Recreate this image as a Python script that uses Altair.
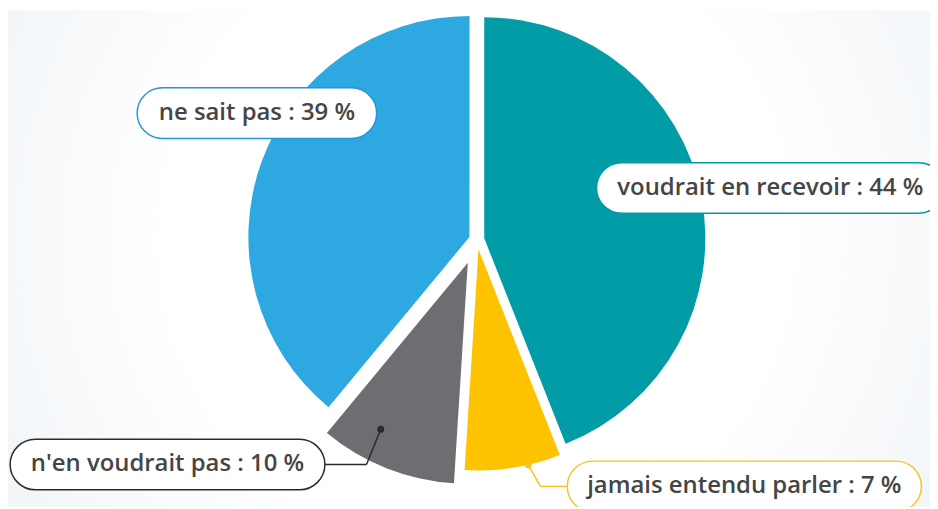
import math
import altair as alt
import pandas as pd

# ---------------- data ----------------
CATEGORIES = ["voudrait en recevoir", "jamais entendu parler", "n'en voudrait pas", "ne sait pas"]
VALUES = [44, 7, 10, 39]          # percent, clockwise from 12 o'clock

# ---------------- style / layout ----------------
SLICE_COLORS = ["#019ca6", "#fdc200", "#6d6e72", "#2da8e0"]
BOX_COLORS = ["#019ca6", "#f9c31f", "#2b2b2b", "#2196d8"]
TEXT_COLOR = "#454545"
FONT = "Open Sans"
FONT_SIZE = 24.1
W, H = 930, 501
CX, CY = 473, 231.5               # pie centre (pixels)
R = 223                           # pie radius
EXPLODE = [7.5, 10, 25, 8]        # slice pull-out distance
LABEL_DIST = [300.5, 367, 385.8, 256]
LABEL_TURN = [0.8, -38.3, 32.4, 10.1]   # degrees from slice bisector
CONNECT = [False, True, True, False]
ANCHOR_FRAC = [0, 1.0, 0.85, 0]
ANCHOR_TURN = [0, -4, 6, 0]
ELBOW = [0, 27, 42, 0]
BOX_H = 51
BOX_PAD = 46

# Open Sans advance widths (units / 2048) for box sizing
ADV = {" ": 532, "'": 391, "%": 1696, ":": 545, "a": 1139, "b": 1255, "c": 975,
       "d": 1255, "e": 1149, "i": 518, "j": 518, "l": 518, "m": 1905, "n": 1257,
       "o": 1237, "p": 1255, "r": 836, "s": 977, "t": 705, "u": 1257, "v": 1092}


def text_width(s):
    return sum(ADV.get(ch, 1171) for ch in s) / 2048 * FONT_SIZE * 1.016


labels = [f"{c} : {v} %" for c, v in zip(CATEGORIES, VALUES)]
df = pd.DataFrame({
    "category": CATEGORIES,
    "value": VALUES,
    "order": list(range(len(CATEGORIES))),
    "label": labels,
    "bw": [text_width(s) + BOX_PAD for s in labels],
    "explode": EXPLODE,
    "ldist": LABEL_DIST,
    "lturn": LABEL_TURN,
    "connect": CONNECT,
    "afrac": ANCHOR_FRAC,
    "aturn": ANCHOR_TURN,
    "elbow": ELBOW,
})
TOTAL = sum(VALUES)

base = (
    alt.Chart(df)
    .transform_joinaggregate(total="sum(value)")
    .transform_window(cum="sum(value)", sort=[alt.SortField("order")], frame=[None, 0])
    .transform_calculate(
        start="datum.cum - datum.value",
        mid="2*PI*(datum.cum - datum.value/2)/datum.total",
        cx=f"{CX} + datum.explode*sin(datum.mid)",
        cy=f"{CY} - datum.explode*cos(datum.mid)",
        la="datum.mid + datum.lturn*PI/180",
        lx=f"{CX} + datum.ldist*sin(datum.la)",
        ly=f"{CY} - datum.ldist*cos(datum.la)",
        bx1="datum.lx - datum.bw/2",
        bx2="datum.lx + datum.bw/2",
        by1=f"datum.ly - {BOX_H / 2}",
        by2=f"datum.ly + {BOX_H / 2}",
        aa="datum.mid + datum.aturn*PI/180",
        ax=f"datum.cx + {R}*datum.afrac*sin(datum.aa)",
        ay=f"datum.cy - {R}*datum.afrac*cos(datum.aa)",
        edge=f"datum.lx < {CX} ? datum.bx2 : datum.bx1",
        ex=f"datum.lx < {CX} ? datum.bx2 + datum.elbow : datum.bx1 - datum.elbow",
    )
)


def px(field):
    return alt.X(f"{field}:Q", scale=None, axis=None)


def py(field):
    return alt.Y(f"{field}:Q", scale=None, axis=None)


fill_scale = alt.Scale(domain=CATEGORIES, range=SLICE_COLORS)
stroke_scale = alt.Scale(domain=CATEGORIES, range=BOX_COLORS)

# background radial glow
bg_grad = alt.Gradient(
    gradient="radial",
    stops=[alt.GradientStop(offset=0, color="#ffffff"),
           alt.GradientStop(offset=0.6, color="#ffffff"),
           alt.GradientStop(offset=1, color="#f3f6f9")],
    x1=0.5, y1=0.5, x2=0.5, y2=0.5, r1=0, r2=0.5,
)
background = alt.Chart(pd.DataFrame({"k": [0]})).mark_rect(fill=bg_grad, clip=True).encode(
    x=alt.value(CX - 520), x2=alt.value(CX + 520),
    y=alt.value(CY - 520), y2=alt.value(CY + 520),
)

arcs = base.mark_arc(radius=R).encode(
    theta=alt.Theta("start:Q", scale=alt.Scale(domain=[0, TOTAL], range=[0, 2 * math.pi])),
    theta2="cum:Q",
    x=px("cx"),
    y=py("cy"),
    fill=alt.Fill("category:N", scale=fill_scale, legend=None),
)

conn = base.transform_filter("datum.connect")
seg1 = conn.mark_rule(strokeWidth=1.5).encode(
    x=px("ax"), y=py("ay"), x2="ex:Q", y2="ly:Q",
    stroke=alt.Stroke("category:N", scale=stroke_scale, legend=None),
)
seg2 = conn.mark_rule(strokeWidth=1.5).encode(
    x=px("ex"), y=py("ly"), x2="edge:Q", y2="ly:Q",
    stroke=alt.Stroke("category:N", scale=stroke_scale, legend=None),
)
dots = conn.mark_circle(size=50, opacity=1).encode(
    x=px("ax"), y=py("ay"),
    color=alt.Color("category:N", scale=stroke_scale, legend=None),
)

boxes = base.mark_rect(cornerRadius=BOX_H / 2, fill="#ffffff", strokeWidth=1.5, clip=True).encode(
    x=px("bx1"), x2="bx2:Q", y=py("by1"), y2="by2:Q",
    stroke=alt.Stroke("category:N", scale=stroke_scale, legend=None),
)

texts = base.mark_text(font=FONT, fontSize=FONT_SIZE, fontWeight=600, color=TEXT_COLOR,
                       align="center", baseline="middle", clip=True).encode(
    x=px("lx"), y=py("ly"), text="label:N",
)

chart = (
    alt.layer(background, arcs, seg1, seg2, dots, boxes, texts)
    .properties(width=W, height=H, padding=0, autosize="none", background="#ffffff")
    .configure_view(strokeWidth=0)
)

chart.save("out.html", embed_options={"renderer": "svg", "actions": False})
